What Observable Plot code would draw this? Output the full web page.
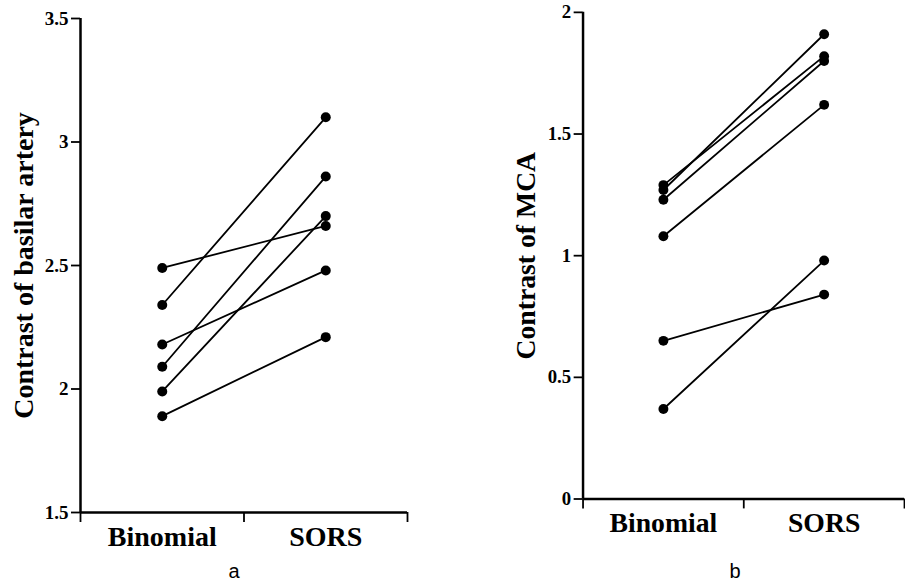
<!DOCTYPE html>
<html>
<head>
<meta charset="utf-8">
<script src="https://cdn.jsdelivr.net/npm/d3@7"></script>
<script src="https://cdn.jsdelivr.net/npm/@observablehq/plot@0.6"></script>
<style>
  html, body { margin: 0; padding: 0; background: #fff; overflow: hidden; }
  #wrap { position: relative; width: 905px; height: 582px; overflow: hidden; }
  .panel { position: absolute; top: 0; }
  .panel svg g[aria-label="y-axis tick label"] text { font-weight: bold; }
  .cap { position: absolute; top: 561px; font-family: "Liberation Sans", Arial, sans-serif; font-size: 20px; line-height: 1; color: #000; transform: translateX(-50%); }
</style>
</head>
<body>
<div id="wrap">
  <div class="panel" id="pa" style="left:0px"></div>
  <div class="panel" id="pb" style="left:450px"></div>
  <div class="cap" style="left:234px">a</div>
  <div class="cap" style="left:735px">b</div>
</div>
<script>
const categories = ["Binomial", "SORS"];
// Panel a: contrast of basilar artery (paired per subject)
const basilarBinomial = [2.49, 2.34, 2.18, 2.09, 1.99, 1.89];
const basilarSORS     = [2.66, 3.10, 2.48, 2.86, 2.70, 2.21];
const basilarTicks = [1.5, 2, 2.5, 3, 3.5];
// Panel b: contrast of MCA
const mcaBinomial = [1.29, 1.27, 1.23, 1.08, 0.65, 0.37];
const mcaSORS     = [1.82, 1.91, 1.80, 1.62, 0.84, 0.98];
const mcaTicks = [0, 0.5, 1, 1.5, 2];

const serif = "Liberation Serif, Times New Roman, serif";

function rows(a, b) {
  const out = [];
  a.forEach((v, i) => {
    out.push({subject: i, pos: categories.indexOf("Binomial") + 0.5, v});
    out.push({subject: i, pos: categories.indexOf("SORS") + 0.5, v: b[i]});
  });
  return out;
}

function panel({data, ticks, label, width, height, marginLeft, marginRight, marginTop, marginBottom, labelDx, catPad}) {
  const ymin = ticks[0], ymax = ticks[ticks.length - 1];
  return Plot.plot({
    width, height, marginLeft, marginRight, marginTop, marginBottom,
    style: {fontFamily: serif, color: "#000", background: "#fff", overflow: "visible"},
    x: {domain: [0, categories.length]},
    y: {domain: [ymin, ymax]},
    marks: [
      Plot.ruleX([0], {stroke: "#000", strokeWidth: 2.5}),
      Plot.ruleY([ymin], {stroke: "#000", strokeWidth: 2.5}),
      Plot.axisY({ticks, tickFormat: d => String(d), tickSize: 9, tickPadding: 3,
        fontSize: 19, fontWeight: "bold", fontFamily: serif, stroke: "#000", strokeWidth: 1.8, label: null}),
      Plot.axisX({ticks: d3.range(categories.length + 1), tickFormat: () => "", tickSize: 10,
        stroke: "#000", strokeWidth: 1.8, label: null}),
      Plot.axisX({ticks: categories.map((c, i) => i + 0.5), tickFormat: d => categories[Math.floor(d)],
        tickSize: 0, tickPadding: catPad, fontSize: 28, fontWeight: "bold", fontFamily: serif, label: null}),
      Plot.text([label], {frameAnchor: "left", textAnchor: "middle", lineAnchor: "middle", rotate: -90, dx: labelDx, fontSize: 28,
        fontWeight: "bold", fontFamily: serif, fill: "#000"}),
      Plot.line(data, {x: "pos", y: "v", z: "subject", stroke: "#000", strokeWidth: 1.8}),
      Plot.dot(data, {x: "pos", y: "v", r: 5, fill: "#000", stroke: "none"})
    ]
  });
}

document.getElementById("pa").appendChild(panel({
  data: rows(basilarBinomial, basilarSORS), ticks: basilarTicks,
  label: "Contrast of basilar artery",
  width: 450, height: 555, marginLeft: 80, marginRight: 43, marginTop: 18, marginBottom: 43,
  labelDx: -56, catPad: 14
}));
document.getElementById("pb").appendChild(panel({
  data: rows(mcaBinomial, mcaSORS), ticks: mcaTicks,
  label: "Contrast of MCA",
  width: 460, height: 555, marginLeft: 134, marginRight: 1, marginTop: 12, marginBottom: 51,
  labelDx: -58, catPad: 13
}));
</script>
</body>
</html>
